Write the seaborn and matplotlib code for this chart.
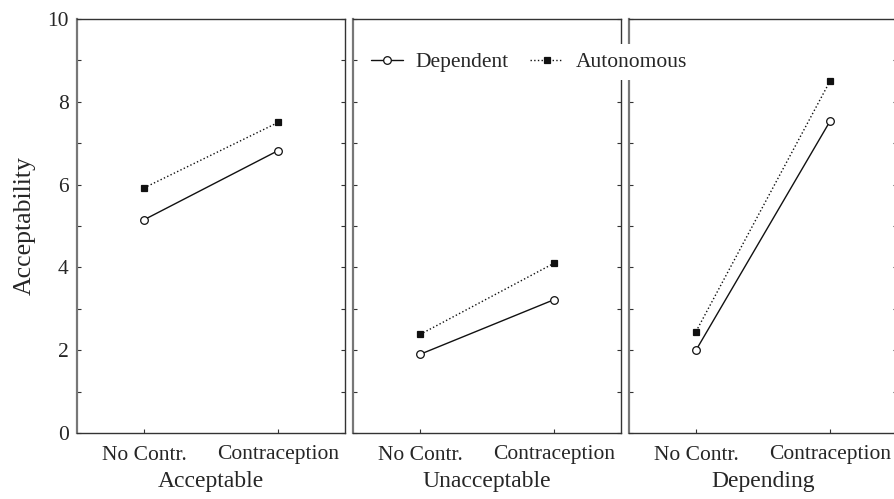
import pandas as pd
import seaborn as sns
import matplotlib.pyplot as plt
from matplotlib.ticker import MultipleLocator

# === Data ===
panels = ["Acceptable", "Unacceptable", "Depending"]
conditions = ["No Contr.", "Contraception"]
dependent = [[5.15, 6.82], [1.90, 3.22], [2.00, 7.53]]
autonomous = [[5.92, 7.50], [2.38, 4.10], [2.45, 8.50]]

rows = []
for i, p in enumerate(panels):
    for j, c in enumerate(conditions):
        rows.append({"panel": p, "condition": c, "group": "Dependent", "value": dependent[i][j]})
        rows.append({"panel": p, "condition": c, "group": "Autonomous", "value": autonomous[i][j]})
df = pd.DataFrame(rows)

sns.set_style("ticks")
plt.rcParams["font.family"] = ["Liberation Serif", "DejaVu Serif"]

styles = {
    "Dependent": dict(marker="o", markerfacecolor="white", linestyle="-", markersize=5.5),
    "Autonomous": dict(marker="s", markerfacecolor="#111111", linestyle=":", markersize=5),
}

fig = plt.figure(figsize=(8.94, 4.99), dpi=100)
lefts = [77 / 894, 353 / 894, 629 / 894]
w, b, h = 268 / 894, (499 - 433) / 499, (433 - 19) / 499

for i, p in enumerate(panels):
    ax = fig.add_axes([lefts[i], b, w, h])
    sub = df[df["panel"] == p]
    for g in ["Dependent", "Autonomous"]:
        sns.lineplot(data=sub[sub["group"] == g], x="condition", y="value", ax=ax,
                     color="#111111", linewidth=1, markeredgecolor="#111111",
                     markeredgewidth=0.9, label=g, **styles[g])
    if ax.get_legend() is not None:
        ax.get_legend().remove()
    ax.set_xlim(-0.5, 1.5)
    ax.set_ylim(0, 10)
    ax.yaxis.set_major_locator(MultipleLocator(2))
    ax.yaxis.set_minor_locator(MultipleLocator(1))
    ax.tick_params(axis="both", which="both", direction="in", length=3, width=0.8,
                   color="#333333", labelsize=15.5)
    ax.tick_params(axis="x", pad=9)
    ax.tick_params(axis="y", pad=6)
    ax.tick_params(axis="y", which="both", left=True, right=True)
    ax.tick_params(axis="x", top=False)
    for s in ax.spines.values():
        s.set_visible(True)
        s.set_color("#333333")
        s.set_linewidth(1.0)
    ax.spines["left"].set_color("#777777")
    ax.spines["left"].set_linewidth(1.6)
    ax.set_xlabel(p, fontsize=17, labelpad=5)
    if i == 0:
        ax.set_ylabel("Acceptability", fontsize=18.5, labelpad=8)
    else:
        ax.set_ylabel("")
        ax.set_yticklabels([])
    if i == 0:
        handles, labels = ax.get_legend_handles_labels()

leg = fig.legend(handles, labels, loc="center left", bbox_to_anchor=(363 / 894, 1 - 62 / 499),
                 ncol=2, frameon=True, fontsize=15.5, handlelength=1.5, handletextpad=0.6,
                 columnspacing=1.0, borderpad=0.35, borderaxespad=0)
leg.get_frame().set_facecolor("white")
leg.get_frame().set_edgecolor("none")
leg.get_frame().set_alpha(1)

fig.savefig("out.png", dpi=100)
